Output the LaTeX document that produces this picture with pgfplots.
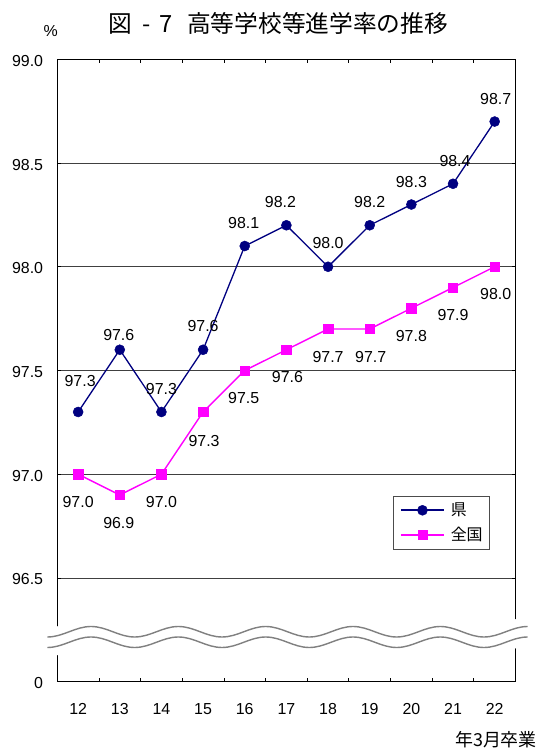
\documentclass[border=0pt]{standalone}
\usepackage{pgfplots}
\pgfplotsset{compat=1.18}
\usepackage{pgfplotstable}
\usepackage{fontspec}
\setmainfont{Liberation Sans}
\newfontfamily\cjk{Noto Sans CJK JP}
\definecolor{ken}{RGB}{0,0,128}
\definecolor{zen}{RGB}{255,0,255}

\pgfplotstableread{
x y dx dy
12 97.3 2 31
13 97.6 -1 15
14 97.3 0 23
15 97.6 0 23.5
16 98.1 -1 23.5
17 98.2 -6 23.5
18 98.0 0 23.5
19 98.2 0 23.5
20 98.3 0 23
21 98.4 2 23
22 98.7 1 23
}\kentable

\pgfplotstableread{
x y dx dy
12 97.0 0 -28
13 96.9 -1 -28
14 97.0 0 -28
15 97.3 1 -29.5
16 97.5 -1 -27.5
17 97.6 1 -27
18 97.7 0 -28
19 97.7 1 -28
20 97.8 0 -27.5
21 97.9 0 -27.5
22 98.0 1 -27.5
}\zentable

\begin{document}
\begin{tikzpicture}
\useasboundingbox (0,0) rectangle (539bp,748bp);
\begin{axis}[
  at={(57.3bp,66.3bp)}, anchor=south west,
  scale only axis, width=458.2bp, height=622.4bp,
  xmin=11.5, xmax=22.5, ymin=96, ymax=99,
  xtick={12.5,13.5,14.5,15.5,16.5,17.5,18.5,19.5,20.5,21.5},
  xticklabels={},
  extra x ticks={12,13,14,15,16,17,18,19,20,21,22},
  extra x tick labels={12,13,14,15,16,17,18,19,20,21,22},
  extra x tick style={major tick length=0pt},
  ytick={96,96.5,97,97.5,98,98.5,99},
  yticklabels={0,96.5,97.0,97.5,98.0,98.5,99.0},
  tick align=inside,
  major tick length=4bp,
  tick style={black, line width=0.8bp},
  ymajorgrids,
  major grid style={black!75, line width=0.8bp},
  axis line style={line width=1.3bp},
  tick label style={font=\fontsize{16}{16}\selectfont, inner sep=0pt},
  xticklabel style={anchor=center, yshift=-27bp},
  yticklabel style={anchor=east, xshift=-14bp, yshift=-1.5bp},
  clip=false,
  legend style={at={(axis description cs:0.7326,0.2976)}, anchor=north west,
    draw=black!70, fill=white,
    font=\fontsize{16}{16}\cjk,
    inner xsep=7bp, inner ysep=6.5bp,
    nodes={inner sep=0pt},
    row sep=10bp, column sep=6bp},
  legend cell align=left,
  legend image code/.code={\draw[mark repeat=2,mark phase=2,#1,line width=1.6bp] plot coordinates {(0bp,0bp) (21.5bp,0bp) (43bp,0bp)};},
]
\addplot[ken, line width=1.3bp, mark=*, mark size=5bp,
  mark options={fill=ken, draw=ken, line width=0.5bp},
  point meta=explicit symbolic, nodes near coords,
  visualization depends on={\thisrow{dx} \as \dx},
  visualization depends on={\thisrow{dy} \as \dy},
  every node near coord/.append style={anchor=center, xshift=\dx bp, yshift=\dy bp,
    text=black, font=\fontsize{16}{16}\selectfont, inner sep=0pt}]
  table[x=x, y=y, meta=y] {\kentable};
\addlegendentry{県}
\addplot[zen, line width=1.4bp, mark=square*, mark size=4.7bp,
  mark options={fill=zen, draw=zen, line width=0.5bp},
  point meta=explicit symbolic, nodes near coords,
  visualization depends on={\thisrow{dx} \as \dx},
  visualization depends on={\thisrow{dy} \as \dy},
  every node near coord/.append style={anchor=center, xshift=\dx bp, yshift=\dy bp,
    text=black, font=\fontsize{16}{16}\selectfont, inner sep=0pt}]
  table[x=x, y=y, meta=y] {\zentable};
\addlegendentry{全国}
\end{axis}
% axis break
\draw[white, line width=28bp] (47.35bp,105.75bp)
  \foreach \i in {1,...,5}{cos ++(21.83bp,5.25bp) sin ++(21.83bp,5.25bp) cos ++(21.83bp,-5.25bp) sin ++(21.83bp,-5.25bp)}
  cos ++(21.83bp,5.25bp) sin ++(21.83bp,5.25bp);
\draw[black!50, line width=1.4bp] (47.35bp,111bp)
  \foreach \i in {1,...,5}{cos ++(21.83bp,5.25bp) sin ++(21.83bp,5.25bp) cos ++(21.83bp,-5.25bp) sin ++(21.83bp,-5.25bp)}
  cos ++(21.83bp,5.25bp) sin ++(21.83bp,5.25bp);
\draw[black!50, line width=1.4bp] (47.35bp,100.5bp)
  \foreach \i in {1,...,5}{cos ++(21.83bp,5.25bp) sin ++(21.83bp,5.25bp) cos ++(21.83bp,-5.25bp) sin ++(21.83bp,-5.25bp)}
  cos ++(21.83bp,5.25bp) sin ++(21.83bp,5.25bp);
% texts
\node[anchor=west, inner sep=0pt, font=\fontsize{23.8}{24}\cjk] at (108bp,725bp)
  {図\hspace{11bp}-\hspace{8bp}7\hspace{15bp}高等学校等進学率の推移};
\node[inner sep=0pt, font=\fontsize{16}{16}\selectfont] at (50.8bp,717.3bp) {\%};
\node[anchor=east, inner sep=0pt, font=\fontsize{18}{18}\cjk] at (537bp,8bp) {年3月卒業};
\end{tikzpicture}
\end{document}
